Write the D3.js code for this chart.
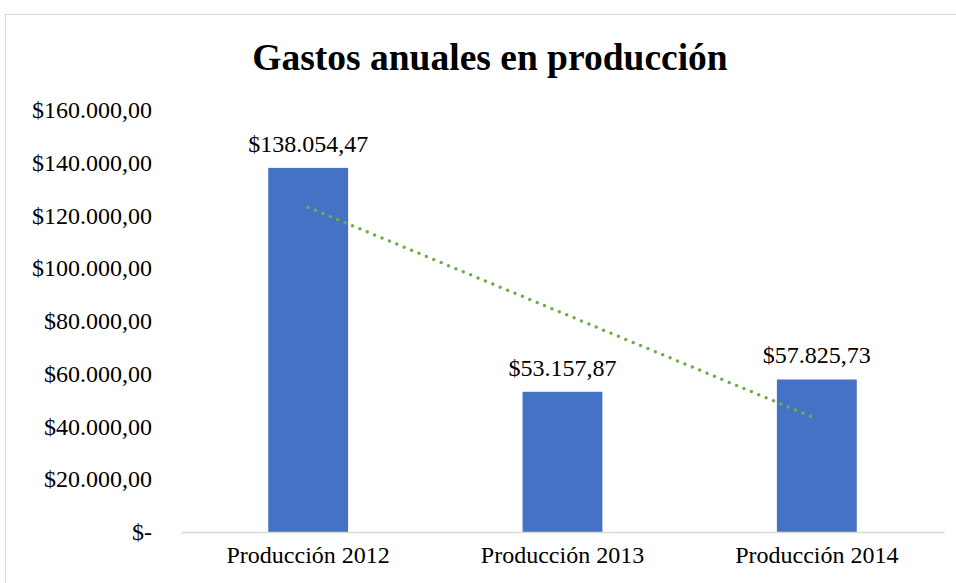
<!DOCTYPE html>
<html>
<head>
<meta charset="utf-8">
<script src="https://cdn.jsdelivr.net/npm/d3@7"></script>
<style>
  body { margin: 0; background: #fff; }
  text { font-family: "Liberation Serif", "Times New Roman", serif; }
</style>
</head>
<body>
<div id="chart"></div>
<script>
const WIDTH = 956;
const HEIGHT = 583;

const categories = ["Producción 2012", "Producción 2013", "Producción 2014"];
const values = [138054.47, 53157.87, 57825.73];
const valueLabels = ["$138.054,47", "$53.157,87", "$57.825,73"];
const yTicks = [0, 20000, 40000, 60000, 80000, 100000, 120000, 140000, 160000];
const yTickLabels = ["$-", "$20.000,00", "$40.000,00", "$60.000,00", "$80.000,00",
    "$100.000,00", "$120.000,00", "$140.000,00", "$160.000,00"];

const margin = { top: 110, right: 12, bottom: 51, left: 181 };
const width = WIDTH - margin.left - margin.right;
const height = HEIGHT - margin.top - margin.bottom;

const svg = d3.select("#chart").append("svg")
    .attr("width", WIDTH)
    .attr("height", HEIGHT);

// marco del gráfico
svg.append("rect")
    .attr("x", 5.5).attr("y", 14.5)
    .attr("width", 1000).attr("height", 1000)
    .attr("fill", "none")
    .attr("stroke", "#d9d9d9");

svg.append("text")
    .attr("x", 490).attr("y", 70)
    .attr("text-anchor", "middle")
    .style("font-size", "37.5px")
    .style("font-weight", "bold")
    .text("Gastos anuales en producción");

const g = svg.append("g")
    .attr("transform", `translate(${margin.left},${margin.top})`);

const x = d3.scaleBand()
    .domain(categories)
    .range([0, width])
    .paddingInner(0.686)
    .paddingOuter(0.343);

const y = d3.scaleLinear()
    .domain([0, 160000])
    .range([height, 0]);

// Eje Y (solo etiquetas)
const yAxis = g.append("g")
    .call(d3.axisLeft(y).tickValues(yTicks).tickSize(0).tickPadding(29)
        .tickFormat((d, i) => yTickLabels[i]));
yAxis.select(".domain").remove();
yAxis.selectAll("text")
    .style("font-size", "24px")
    .attr("fill", "#000");

// Barras
g.selectAll(".bar")
    .data(values)
    .enter().append("rect")
    .attr("class", "bar")
    .attr("x", (d, i) => x(categories[i]))
    .attr("y", d => y(d))
    .attr("width", x.bandwidth())
    .attr("height", d => height - y(d))
    .attr("fill", "#4472c4");

// Eje X
const xAxis = g.append("g")
    .attr("transform", `translate(0,${height})`)
    .call(d3.axisBottom(x).tickSize(0).tickPadding(14));
xAxis.select(".domain")
    .attr("stroke", "#d9d9d9")
    .attr("stroke-width", 1.5);
xAxis.selectAll("text")
    .style("font-size", "24px")
    .attr("fill", "#000");

// Etiquetas de datos
g.selectAll(".label")
    .data(values)
    .enter().append("text")
    .attr("class", "label")
    .attr("x", (d, i) => x(categories[i]) + x.bandwidth() / 2)
    .attr("y", d => y(d) - 16)
    .attr("text-anchor", "middle")
    .style("font-size", "24px")
    .text((d, i) => valueLabels[i]);

// Línea de tendencia (regresión lineal)
const n = values.length;
const xs = values.map((d, i) => i + 1);
const mx = d3.mean(xs);
const my = d3.mean(values);
const slope = d3.sum(xs, (xi, i) => (xi - mx) * (values[i] - my)) / d3.sum(xs, xi => (xi - mx) ** 2);
const intercept = my - slope * mx;
const trend = categories.map((c, i) => [x(c) + x.bandwidth() / 2, y(intercept + slope * (i + 1))]);

g.append("path")
    .datum([trend[0], trend[n - 1]])
    .attr("d", d3.line())
    .attr("fill", "none")
    .attr("stroke", "#70ad47")
    .attr("stroke-width", 3.5)
    .attr("stroke-linecap", "round")
    .attr("stroke-dasharray", "0 8");
</script>
</body>
</html>
